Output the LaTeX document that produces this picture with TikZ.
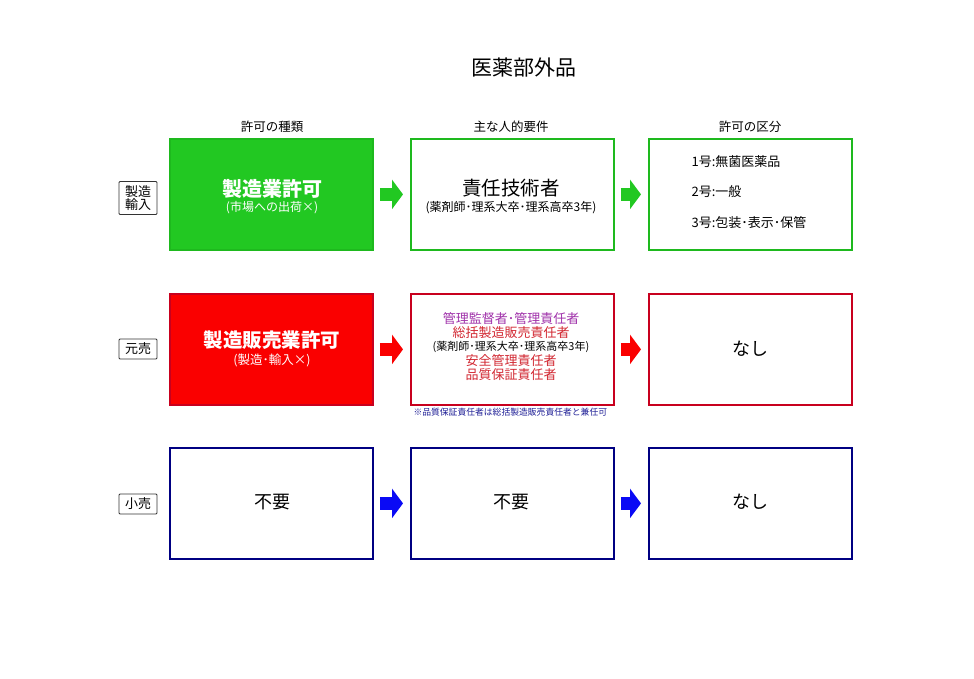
\documentclass[tikz,border=0pt]{standalone}
\usepackage{fontspec}
\setmainfont{Noto Sans CJK JP}
\usetikzlibrary{arrows.meta}
\definecolor{gfill}{RGB}{34,200,34}
\definecolor{gline}{RGB}{30,185,30}
\definecolor{rfill}{RGB}{250,0,0}
\definecolor{rline}{RGB}{200,0,30}
\definecolor{bline}{RGB}{0,0,130}
\definecolor{barrow}{RGB}{10,10,245}
\definecolor{purp}{RGB}{160,50,170}
\definecolor{dred}{RGB}{210,40,50}
\definecolor{note}{RGB}{30,30,150}
\newcommand{\fs}[1]{\fontsize{#1}{#1}\selectfont}
\begin{document}
\begin{tikzpicture}[x=1pt,y=-1pt,
  box/.style={draw,line width=1.8pt,minimum width=203pt,minimum height=111pt,inner sep=0pt,anchor=north west},
  gbox/.style={box,draw=gline},
  rbox/.style={box,draw=rline},
  bbox/.style={box,draw=bline},
  lbl/.style={draw=black!80,line width=0.8pt,rounded corners=1pt,inner xsep=6pt,inner ysep=4pt,align=center,font=\fs{13}},
  hdr/.style={font=\fs{12.5}},
  conn/.style={line width=13pt,-{Triangle[length=11pt,width=29pt]},shorten <=6pt,shorten >=7pt}
]
\fill[white] (0,0) rectangle (974,679);
\node[font=\fs{21}] (title) at (524,68) {医薬部外品};
\node[hdr] (h1) at (272,127) {許可の種類};
\node[hdr] (h2) at (511,127) {主な人的要件};
\node[hdr] (h3) at (750,127) {許可の区分};
% row 1
\node[lbl] (l1) at (138,198) {製造\\[0pt]輸入};
\node[gbox,fill=gfill] (a1) at (169,138) {};
\node[gbox,fill=white] (a2) at (410,138) {};
\node[gbox,fill=white] (a3) at (648,138) {};
\node[text=white,font=\fs{20}\bfseries] (a1t) at (272,189) {製造業許可};
\node[text=white,font=\fs{12}] (a1s) at (272,208) {(市場への出荷×)};
\node[font=\fs{19.5}] (a2t) at (511,188) {責任技術者};
\node[font=\fs{12}] (a2s) at (511,208) {(薬剤師･理系大卒･理系高卒3年)};
\node[font=\fs{13},anchor=west] (a3a) at (688,162) {1号:無菌医薬品};
\node[font=\fs{13},anchor=west] (a3b) at (688,192) {2号:一般};
\node[font=\fs{13},anchor=west] (a3c) at (688,223) {3号:包装･表示･保管};
\draw[conn,draw=gfill] (a1.east) -- (a2.west);
\draw[conn,draw=gfill] (a2.east) -- (a3.west);
% row 2
\node[lbl] (l2) at (138,349) {元売};
\node[rbox,fill=rfill] (b1) at (169,293) {};
\node[rbox,fill=white] (b2) at (410,293) {};
\node[rbox,fill=white] (b3) at (648,293) {};
\node[text=white,font=\fs{19.5}\bfseries] (b1t) at (272,340) {製造販売業許可};
\node[text=white,font=\fs{12.5}] (b1s) at (272,360) {(製造･輸入×)};
\node[font=\fs{13},text=purp] (b2a) at (511,319) {管理監督者･管理責任者};
\node[font=\fs{13},text=dred] (b2b) at (511,333) {総括製造販売責任者};
\node[font=\fs{11}] (b2c) at (511,347) {(薬剤師･理系大卒･理系高卒3年)};
\node[font=\fs{13},text=dred] (b2d) at (511,361) {安全管理責任者};
\node[font=\fs{13},text=dred] (b2e) at (511,375) {品質保証責任者};
\node[font=\fs{8.8},text=note,anchor=west] (b2n) at (410,412) {※品質保証責任者は総括製造販売責任者と兼任可};
\node[font=\fs{18}] (b3t) at (750,349) {なし};
\draw[conn,draw=rfill] (b1.east) -- (b2.west);
\draw[conn,draw=rfill] (b2.east) -- (b3.west);
% row 3
\node[lbl] (l3) at (138,504) {小売};
\node[bbox,fill=white] (c1) at (169,447) {};
\node[bbox,fill=white] (c2) at (410,447) {};
\node[bbox,fill=white] (c3) at (648,447) {};
\node[font=\fs{18}] (c1t) at (272,502) {不要};
\node[font=\fs{18}] (c2t) at (511,502) {不要};
\node[font=\fs{18}] (c3t) at (750,502) {なし};
\draw[conn,draw=barrow] (c1.east) -- (c2.west);
\draw[conn,draw=barrow] (c2.east) -- (c3.west);
\end{tikzpicture}
\end{document}
